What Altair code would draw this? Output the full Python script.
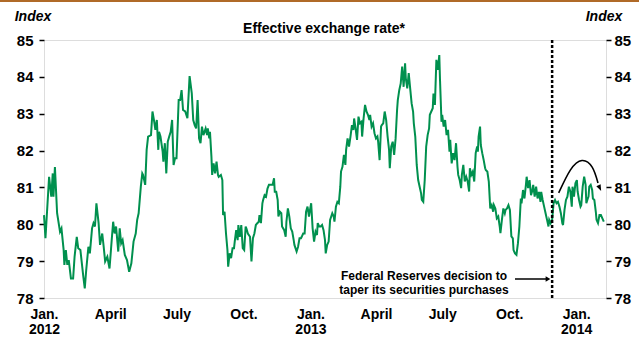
import altair as alt
import pandas as pd

# ---- data (day offsets from 2012-01-01, index values) ----
start_date = "2012-01-01"

days_1 = [0,2,7,10,12,13,15,18,22,24,27,28,30,32,34,37,40,42,45,47,50,52,54,56,58,61,63,66,68,70,
          72,75,77,80,82,84,87,90,93,95,97,99,102,104,106,108,111,114,117,120,123,126,128,130,133,135,136,139,141,143,
          147,149,151,153,155,157,158,160,163,164,166,168,170,172,174,176,178,180,182,185,187,189,191,194,197,200]
vals_1 = [80.25,79.62,81.29,80.75,81.38,80.75,81.55,80.30,79.80,79.89,79.30,78.90,79.30,78.90,79.03,78.53,78.53,79.12,79.66,79.35,
          79.30,78.94,78.58,78.26,78.76,79.39,79.21,79.89,80.03,79.94,80.57,80.03,79.44,79.75,79.39,78.99,79.12,78.80,79.57,80.07,
          79.75,79.94,79.26,79.89,79.48,79.57,79.17,79.03,78.71,78.94,79.53,79.75,80.12,80.30,81.02,81.38,81.34,81.07,82.02,82.38,
          82.42,83.06,82.83,82.56,82.83,82.02,82.51,82.38,81.97,81.70,82.20,81.38,82.24,82.38,82.51,82.83,81.61,81.79,81.79,83.37,
          83.37,83.64,83.10,83.06,82.88,84.02]

days_2 = [203,205,207,209,211,213,215,217,219,222,224,225,227,228,230,231,233,235,237,239,240,243,245,246,248,250,252,253,255,257,
          259,261,262,264,266,267,269,271,273,275,277,278,280,283,285,287,289,291,293,295,296,298,300,301,303,305,307,309,311,314,
          316,317,319,321,322,324,326,327,330,332,333,335,337,339,341,343,344,347,349,351,353,354,356,358,360,362,364,365,367,369,
          371,373,375,376,378,380,382,384,386,387,389,391,393]
vals_2 = [83.55,82.83,82.69,82.60,83.37,82.33,82.20,82.65,82.42,82.60,82.42,82.60,82.33,82.51,81.83,81.34,81.65,81.38,81.70,81.34,
          81.29,81.34,81.20,80.25,80.34,79.75,79.30,78.85,79.21,79.08,79.35,79.35,79.53,79.84,79.57,79.98,79.66,79.98,79.35,79.30,
          79.94,79.89,79.75,79.66,78.99,79.62,79.75,79.98,80.03,80.07,80.25,80.03,80.57,80.66,80.79,80.75,80.97,81.07,81.07,81.07,
          81.25,80.88,80.88,80.66,80.21,80.34,80.30,79.94,79.84,79.66,80.07,80.43,80.21,79.89,79.80,79.57,79.44,79.26,79.39,79.62,
          79.62,79.66,79.75,79.75,80.34,80.48,80.21,80.34,80.57,79.89,79.53,79.80,79.71,80.03,79.94,79.94,79.98,79.84,79.57,79.21,
          79.44,79.53,80.12]

days_3 = [396,398,399,401,403,405,407,408,410,412,414,415,417,419,421,423,425,426,428,430,432,434,436,437,439,441,443,445,447,448,
          450,452,454,456,458,459,461,463,464,466,468,470,472,474,475,477,479,481,483,485,486,488,490,492,494,496,497,499,501,503,
          505,507,508,510,512,514,516,518,519,521,523,525,527,529,530,532,534,535,537,539,541,543,544,546,547,549,551,553,555,557,
          558,560,562,564,566,568,569,571,573,574,576,578,580,582,584,585,587,589,591]
vals_3 = [80.30,80.21,80.07,80.48,80.61,80.57,81.02,81.43,81.56,81.88,81.61,82.02,82.33,82.11,82.38,82.69,82.56,82.87,82.60,82.29,
          82.92,82.74,82.78,82.38,82.87,83.24,83.06,82.97,82.83,82.97,82.65,82.74,82.47,82.33,82.38,82.24,81.74,82.65,82.69,82.74,
          83.06,82.83,82.38,82.02,81.52,82.11,82.24,81.88,82.33,83.10,83.37,83.64,83.82,84.28,83.73,84.37,83.96,83.69,84.10,83.69,
          83.28,83.06,82.74,82.38,81.61,81.20,81.02,80.84,80.66,80.61,81.20,82.11,82.42,82.60,82.97,83.06,83.15,83.55,83.24,84.46,
          84.19,84.59,83.91,82.78,82.97,82.65,82.83,82.42,82.56,81.97,82.29,81.65,81.93,81.74,82.20,81.56,81.34,81.20,80.98,81.34,
          81.61,81.16,81.29,81.16,80.89,81.52,81.34,81.43,81.16]

days_4 = [593,595,596,597,599,600,602,604,606,607,609,611,613,615,617,618,620,622,624,626,627,629,631,633,634,636,638,640,642,644,
          645,647,649,651,653,655,656,658,660,662,663,665,667,669,671,672,674,676,678,680,682,683,685,687,689,691,693,694,696,698,
          700,702,704,706,708,710,712,713,715,717,719,721,723,725,726,728,730,732,733,735,737,738,740,742,744,745,747,748,749,751,
          753,754,756,758,759,761,763,765,767,769]
vals_4 = [81.93,82.11,81.97,82.38,82.65,82.15,81.93,81.74,81.52,81.47,81.43,81.16,80.43,80.52,80.34,80.52,80.43,80.16,80.21,79.94,
          79.76,80.12,80.43,80.30,80.39,80.43,80.52,80.39,79.67,79.62,79.30,79.21,79.17,79.48,79.94,80.70,80.57,80.93,80.70,81.07,
          81.29,80.98,81.20,80.79,80.93,81.07,80.75,81.02,80.70,80.88,80.61,80.88,80.66,80.48,80.30,80.12,79.94,80.12,80.03,80.12,
          80.57,80.66,80.57,80.61,80.48,80.30,80.03,79.98,80.39,80.66,80.75,81.02,80.89,80.48,81.02,80.75,81.11,81.20,80.89,80.66,
          80.48,80.52,81.02,81.29,81.07,80.57,80.70,80.75,81.02,81.07,80.93,80.70,80.66,80.34,80.12,80.03,80.25,80.25,80.16,80.07]

fed_decision_day = 698
arc_days = [707, 723, 739, 753, 761]
arc_vals = [80.85, 81.47, 81.73, 81.55, 81.12]
arc_head_day = [763.5]
arc_head_val = [80.98]

title_text = "Effective exchange rate*"
unit_text = "Index"
note_lines = ["Federal Reserves decision to", "taper its securities purchases"]
y_ticks = [78, 79, 80, 81, 82, 83, 84, 85]

# ---- tables ----
t0 = pd.Timestamp(start_date)
days = days_1 + days_2 + days_3 + days_4
vals = vals_1 + vals_2 + vals_3 + vals_4
assert len(days) == len(vals)
df = pd.DataFrame({"date": t0 + pd.to_timedelta(days, unit="D"), "value": vals})
fed_df = pd.DataFrame({"date": [t0 + pd.Timedelta(days=fed_decision_day)]})
arc_df = pd.DataFrame({"date": t0 + pd.to_timedelta(arc_days, unit="D"), "value": arc_vals})
head_df = pd.DataFrame({"date": t0 + pd.to_timedelta(arc_head_day, unit="D"), "value": arc_head_val})
one = pd.DataFrame({"k": [0]})

FONT = "Liberation Sans"
GREEN = "#00904E"
DOWN_TRIANGLE = "M-0.75,-1 L0.75,-1 L0,1 Z"

x_scale = alt.Scale(domain=[alt.DateTime(year=2012, month=1, date=1),
                            alt.DateTime(year=2014, month=2, date=11)], nice=False)
y_scale = alt.Scale(domain=[78, 85], nice=False, zero=False)

quarter_values = [alt.DateTime(year=y, month=m, date=1)
                  for y in (2012, 2013) for m in (1, 4, 7, 10)] + [alt.DateTime(year=2014, month=1, date=1)]

x_axis = alt.Axis(values=quarter_values, ticks=False, domain=False, grid=False, title=None,
                  labelFontSize=14, labelFontWeight="bold", labelColor="black", labelFont=FONT,
                  labelPadding=9, labelLineHeight=15, labelOverlap=False, labelBound=False, labelFlush=False,
                  labelExpr="month(datum.value) == 0 ? ['Jan.', '' + year(datum.value)] : "
                            "(month(datum.value) == 3 ? 'April' : (month(datum.value) == 6 ? 'July' : 'Oct.'))")

def y_axis(orient, pad):
    return alt.Axis(orient=orient, values=y_ticks, tickSize=5, tickWidth=1.5, tickColor="black",
                    domain=False, grid=False, title=None, labelFontSize=15, labelFontWeight="bold",
                    labelColor="black", labelFont=FONT, labelPadding=pad)

line = alt.Chart(df).mark_line(color=GREEN, strokeWidth=2).encode(
    x=alt.X("date:T", scale=x_scale, axis=x_axis),
    y=alt.Y("value:Q", scale=y_scale, axis=y_axis("left", 6)),
)
right_axis = alt.Chart(df).mark_line(opacity=0).encode(
    x=alt.X("date:T", scale=x_scale),
    y=alt.Y("value:Q", scale=y_scale, axis=y_axis("right", 3)),
)
fed_rule = alt.Chart(fed_df).mark_rule(color="black", strokeWidth=2.5, strokeDash=[3, 2]).encode(
    x=alt.X("date:T", scale=x_scale)
)
arc = alt.Chart(arc_df).mark_line(color="black", strokeWidth=1.6, interpolate="natural").encode(
    x=alt.X("date:T", scale=x_scale),
    y=alt.Y("value:Q", scale=y_scale, axis=None),
)
arc_head = alt.Chart(head_df).mark_point(shape=DOWN_TRIANGLE, filled=True, color="black", size=40,
                                         angle=335, opacity=1).encode(
    x=alt.X("date:T", scale=x_scale),
    y=alt.Y("value:Q", scale=y_scale, axis=None),
)

def txt(text, x, y, size, style="normal", align="center"):
    return alt.Chart(one).mark_text(font=FONT, fontSize=size, fontWeight="bold", fontStyle=style,
                                    align=align, baseline="middle", color="black").encode(
        x=alt.value(x), y=alt.value(y), text=alt.value(text))

title = txt(title_text, 280, -11, 14)
idx_left = txt(unit_text, -11, -23, 14, "italic")
idx_right = txt(unit_text, 560, -23, 14, "italic")
note1 = txt(note_lines[0], 380, 235.5, 12)
note2 = txt(note_lines[1], 380, 249.5, 12)

arrow_line = alt.Chart(one).mark_rule(color="black", strokeWidth=1.5).encode(
    x=alt.value(471), x2=alt.value(502), y=alt.value(239))
arrow_head = alt.Chart(one).mark_point(shape="triangle-right", filled=True, color="black",
                                       size=30, opacity=1).encode(x=alt.value(504), y=alt.value(239))

top_band = alt.Chart(one).mark_rule(color="#B06A28", strokeWidth=2).encode(
    x=alt.value(-44), x2=alt.value(595), y=alt.value(-39))

chart = alt.layer(
    line, right_axis, fed_rule, arc, arc_head, title, idx_left, idx_right,
    note1, note2, arrow_line, arrow_head, top_band
).resolve_scale(y="independent").properties(
    width=562, height=258,
    padding={"left": 44, "top": 40, "right": 33, "bottom": 39},
    autosize="none",
).configure_view(stroke="black", strokeWidth=1.5).configure(font=FONT, background="white")

chart.save("out.html", embed_options={"renderer": "svg", "actions": False})
